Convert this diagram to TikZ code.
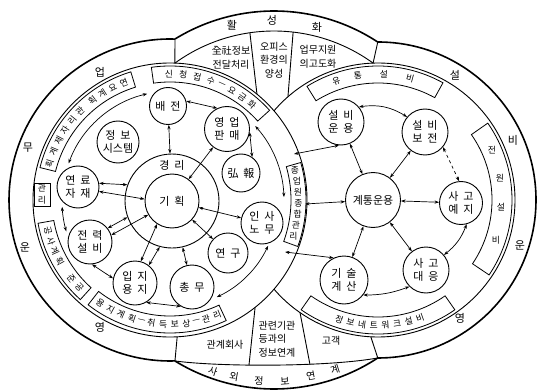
\documentclass[tikz,border=0pt]{standalone}
\usepackage{fontspec}
\setmainfont{Noto Sans CJK KR}
\usetikzlibrary{arrows.meta,calc}
\newcommand\mysecbox[5]{\draw[bx] ($(#1)+(#2:#4)$) arc[start angle=#2,end angle=#3,radius=#4] -- ($(#1)+(#3:#5)$) arc[start angle=#3,end angle=#2,radius=#5] -- cycle;}
\newcommand\gp{\hspace{0.45em}}
\begin{document}
\begin{tikzpicture}[x=1pt,y=1pt,
 thickline/.style={line width=1.6pt},
 ln/.style={line width=0.9pt},
 bx/.style={line width=0.8pt},
 cir/.style={draw,circle,line width=0.9pt,inner sep=0pt,align=center,font=\fontsize{11}{13.5}\selectfont},
 arr/.style={{Stealth[length=4.5pt,width=3.2pt]}-{Stealth[length=4.5pt,width=3.2pt]},line width=0.7pt},
 bch/.style={font=\fontsize{8.8}{10}\selectfont,inner sep=0pt},
 band/.style={font=\fontsize{11}{12}\selectfont,inner sep=0pt},
 tb/.style={font=\fontsize{10}{13.5}\selectfont,inner sep=0pt,align=center},
]
\useasboundingbox (0,0) rectangle (537,-390);
\coordinate (L) at (170,-200);
\coordinate (R) at (378,-200);
\coordinate (M) at (274,-200);
\coordinate (C) at (172,-201);

% outer boundaries
\draw[thickline] ($(L)+(88.3:161)$) arc[start angle=88.3,end angle=271.7,radius=161];
\draw[thickline] ($(R)+(90.1:158)$) arc[start angle=90.1,end angle=-90.1,radius=158];
\draw[thickline] ($(M)+(121.6:189)$) arc[start angle=121.6,end angle=56.7,radius=189];
\draw[thickline] ($(M)+(-121.6:189)$) arc[start angle=-121.6,end angle=-56.7,radius=189];
% band inner lines
\draw[ln] ($(M)+(125.9:169)$) arc[start angle=125.9,end angle=54.1,radius=169];
\draw[ln] ($(M)+(-121.6:189)$) .. controls (220,-367) and (328,-367) .. ($(M)+(-56.7:189)$);
% dividers
\draw[ln] ($(M)+(121.6:189)$) -- ($(M)+(125.9:169)$);
\draw[ln] ($(M)+(56.7:189)$) -- ($(M)+(54.1:169)$);
\draw[ln] ($(L)+(-87:137)$) -- ($(M)+(-121.6:189)$);
\draw[ln] ($(R)+(-93:137)$) -- ($(M)+(-56.7:189)$);
% middle circles
\draw[ln] (L) circle[radius=137];
\draw[ln] ($(R)+(139.4:137)$) arc[start angle=139.4,end angle=-139.4,radius=137];
% top / bottom box dividers
\draw[ln] ($(M)+(98.2:169)$) -- ($(L)+(50.6:137)$);
\draw[ln] ($(M)+(83.5:169)$) -- ($(R)+(131.1:137)$);
\draw[ln] ($(L)+(-51.6:137)$) -- (249,-365);
\draw[ln] ($(R)+(-124.7:137)$) -- (310,-364.7);

% label boxes
\mysecbox{L}{98}{42}{134}{118}
\mysecbox{L}{166}{107}{134}{118}
\mysecbox{L}{228}{190}{134}{118}
\mysecbox{L}{-65}{-128}{133}{116}
\mysecbox{L}{16}{-20}{136}{121}
\draw[bx] (34,-183) rectangle (50,-206);
\mysecbox{R}{122}{61}{134}{117}
\mysecbox{R}{35}{-34}{134}{114}
\mysecbox{R}{-55}{-125}{134}{117}

% box texts
\foreach \a/\c in {90.5/신,84/청,77.5/접,71/수,65.8/—,60.5/요,55/금,49.5/화}
  \node[bch,rotate=\a-90] at ($(L)+(\a:126)$) {\c};
\foreach \a/\c in {163/획,157.5/계,152/제,146.5/자,141/리,135.5/관,128/획,122.5/계,117/요,111.5/연}
  \node[bch,rotate=\a-90] at ($(L)+(\a:126)$) {\c};
\foreach \a/\c in {194/공,199/사,204/계,209/획,218.5/준,224/공}
  \node[bch,rotate=\a+90] at ($(L)+(\a:126)$) {\c};
\foreach \a/\c in {-124/용,-118.6/지,-113.2/계,-107.8/획,-103.2/—,-98.6/취,-93.2/득,-87.8/보,-82.4/상,-77.8/—,-73.2/관,-67.8/리}
  \node[bch,rotate=\a+90] at ($(L)+(\a:124.5)$) {\c};
\foreach \x/\y/\c in {295/170/종,297/181/업,298/192/원,298.5/203/종,297.7/214/합,296/225/관,293.5/236/리}
  \node[bch] at (\x,-\y) {\c};
\node[bch] at (42,-188.5) {관};
\node[bch] at (42,-200.5) {리};
\foreach \a/\c in {109.4/유,99.2/통,87.3/설,75.2/비}
  \node[bch,rotate=\a-90] at ($(R)+(\a:125.5)$) {\c};
\foreach \x/\y/\c in {492/150/전,500/178/원,501/207/설,496/240/비}
  \node[bch] at (\x,-\y) {\c};
\foreach \a/\c in {-108/정,-102.6/보,-97.3/네,-91.9/트,-86.6/워,-81.2/크,-75.8/설,-70.4/비}
  \node[bch,rotate=\a+90] at ($(R)+(\a:125.5)$) {\c};

% band labels
\foreach \x/\y/\c in {100/72/업,28/148/무,25/247/운,100/327/영,455/75/설,513/140/비,520/245/운,460/318/영,232/25/활,272/20/성,317/27/화}
  \node[band] at (\x,-\y) {\c};
\foreach \x/\y/\c/\r in {213/371/사/-18,234/377/외/-10,259/381/정/-3,285/381/보/4,311/376/연/11,335/370/계/18}
  \node[band,font=\fontsize{10}{11}\selectfont,rotate=\r] at (\x,-\y) {\c};

% top / bottom box texts
\node[tb] at (231,-58) {全社정보\\전달처리};
\node[tb] at (274,-60) {오피스\\환경의\\양성};
\node[tb] at (318,-57) {업무지원\\의고도화};
\node[tb] at (225,-345) {관계회사};
\node[tb,align=left] at (277,-339) {관련기관\\등과의\\정보연계};
\node[tb] at (331,-341) {고객};

% left system circles
\node[cir,minimum size=94] (gyeongri) at (172,-201) {};
\node[font=\fontsize{11}{12}\selectfont,inner sep=0pt] (gyeongrilbl) at (172,-165) {경\gp 리};
\node[cir,minimum size=54] (gihoek) at (172,-201) {기\gp 획};
\node[cir,minimum size=37] (baejeon) at (168,-106) {배\gp 전};
\node[cir,minimum size=45] (yeongeop) at (227,-129) {영\gp 업\\판\gp 매};
\node[cir,minimum size=42] (jeongbo) at (118,-142) {정\gp 보\\시스템};
\node[cir,minimum size=38] (hongbo) at (241,-173) {弘\gp 報};
\node[cir,minimum size=42] (yeonryo) at (78,-187) {연\gp 료\\자\gp 재};
\node[cir,minimum size=44] (jeonryeok) at (90,-242) {전\gp 력\\설\gp 비};
\node[cir,minimum size=44] (ipji) at (135,-283) {입\gp 지\\용\gp 지};
\node[cir,minimum size=44] (chongmu) at (192,-287) {총\gp 무};
\node[cir,minimum size=40] (yeongu) at (228,-253) {연\gp 구};
\node[cir,minimum size=42] (insa) at (262,-223) {인\gp 사\\노\gp 무};
% right system circles
\node[cir,minimum size=55] (gyetong) at (373,-200) {계통운용};
\node[cir,minimum size=46] (seolunyong) at (341,-122) {설\gp 비\\운\gp 용};
\node[cir,minimum size=46] (seolbojeon) at (425,-132) {설\gp 비\\보\gp 전};
\node[cir,minimum size=43] (sagoyeji) at (461,-203) {사\gp 고\\예\gp 지};
\node[cir,minimum size=46] (sagodaeung) at (426,-270) {사\gp 고\\대\gp 응};
\node[cir,minimum size=48] (gisul) at (344,-280) {기\gp 술\\계\gp 산};

\coordinate (p1) at (294,-154);
\coordinate (p2) at (305,-204);
\coordinate (p3) at (285,-252);

% left arrows
\draw[arr] (baejeon) -- (gyeongri);
\draw[arr] (yeongeop) -- (gihoek);
\draw[arr] (baejeon.15) -- (yeongeop.115);
\draw[arr] (yeongeop.-8) -- (hongbo.55);
\draw[arr] ($(C)+(42:112)$) arc[start angle=42,end angle=2,radius=112];
\draw[arr] (gihoek) -- (insa);
\draw[arr] (gihoek) -- (yeongu);
\draw[arr] (gyeongri.-77) -- (chongmu.103);
\draw[arr] (ipji.75) -- (gihoek.237);
\draw[arr] (ipji.52) -- (gyeongri.255);
\draw[arr] (jeonryeok.38) -- (gyeongri.200);
\draw[arr] (jeonryeok.18) -- (gihoek.210);
\draw[arr] (yeonryo.10) -- (gyeongri.160);
\draw[arr] (yeonryo.-12) -- (gihoek.176);
\draw[arr] ($(C)+(160:110)$) arc[start angle=160,end angle=103,radius=110];
\draw[arr] ($(C)+(183:110)$) arc[start angle=183,end angle=196,radius=110];
\draw[arr] (jeonryeok.-85) -- (ipji.168);
\draw[arr] (ipji.-60) -- (chongmu.-120);
\draw[arr] ($(C)+(-65:106)$) arc[start angle=-65,end angle=-25,radius=106];
% right arrows
\draw[arr] (p1) -- (seolunyong.-95);
\draw[arr] (p2) -- (gyetong);
\draw[arr] (p3) -- (gisul.115);
\draw[arr] (seolunyong.40) to[bend left=20] (seolbojeon.140);
\draw[arr] (seolunyong) -- (gyetong);
\draw[arr] (seolbojeon) -- (gyetong);
\draw[arr,dashed] (seolbojeon.-40) -- (sagoyeji.95);
\draw[arr] (gyetong) -- (sagoyeji);
\draw[arr] (gyetong) -- (sagodaeung);
\draw[arr] (gyetong) -- (gisul);
\draw[arr] (sagoyeji.-75) to[bend left=15] (sagodaeung.40);
\draw[arr] (gisul.-38) to[bend right=10] (sagodaeung.-135);
\end{tikzpicture}
\end{document}
